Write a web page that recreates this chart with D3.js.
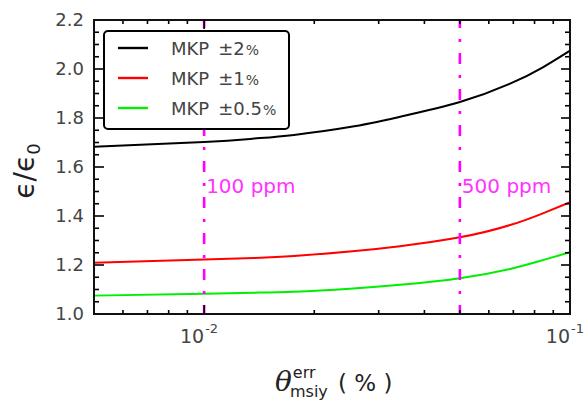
<!doctype html>
<html lang="en">

<head>
  <meta charset="utf-8">
  <title>epsilon ratio vs theta err - D3</title>
  <style>
    body { margin: 0; background: #fff; }
    svg { display: block; }
    text { font-family: "DejaVu Sans", sans-serif; }
  </style>
</head>

<body>
  <svg></svg>

  <script src="https://cdn.jsdelivr.net/npm/d3@7"></script>
  <script>
    const width = 584;
    const height = 401;
    const margin = { top: 20, right: 14, bottom: 87, left: 94 };

    // data (x in %)
    const thetaErr = [0.005, 0.01, 0.0137, 0.0176, 0.025, 0.0343, 0.05, 0.0686, 0.0843, 0.1];
    const mkp2 = [1.683, 1.702, 1.716, 1.731, 1.763, 1.805, 1.865, 1.940, 2.007, 2.075];
    const mkp1 = [1.209, 1.222, 1.229, 1.237, 1.255, 1.277, 1.313, 1.363, 1.411, 1.456];
    const mkp05 = [1.075, 1.083, 1.087, 1.091, 1.103, 1.119, 1.146, 1.184, 1.220, 1.252];

    const seriesPct = ['2', '1', '0.5'];
    const seriesColors = ['#000000', '#ff0000', '#00ee00'];
    const seriesValues = [mkp2, mkp1, mkp05];

    const markerValues = [0.01, 0.05];
    const markerLabels = ['100 ppm', '500 ppm'];

    const yTicks = [1.0, 1.2, 1.4, 1.6, 1.8, 2.0, 2.2];
    const xMajorTicks = [0.01, 0.1];
    const xTickExp = ['-2', '-1'];

    const svg = d3.select('svg')
      .attr('width', width)
      .attr('height', height)
      .attr('viewBox', [0, 0, width, height]);

    const innerW = width - margin.left - margin.right;
    const innerH = height - margin.top - margin.bottom;

    const x = d3.scaleLog().domain([0.005, 0.1]).range([margin.left, margin.left + innerW]);
    const y = d3.scaleLinear().domain([1.0, 2.2]).range([margin.top + innerH, margin.top]);

    // 次刻度
    const xMinor = x.ticks().filter(v => xMajorTicks.indexOf(+v.toPrecision(3)) < 0);
    const yMinor = d3.range(1.0, 2.2001, 0.05).filter(v => Math.abs(v * 5 - Math.round(v * 5)) > 1e-6);

    // 绘制边框刻度
    function drawTicks() {
      const g = svg.append('g').attr('stroke', '#000').attr('stroke-width', 1.6);
      const bottom = margin.top + innerH;
      const right = margin.left + innerW;

      xMinor.forEach(v => {
        g.append('line').attr('x1', x(v)).attr('x2', x(v)).attr('y1', bottom).attr('y2', bottom - 4);
        g.append('line').attr('x1', x(v)).attr('x2', x(v)).attr('y1', margin.top).attr('y2', margin.top + 4);
      });
      xMajorTicks.forEach(v => {
        g.append('line').attr('x1', x(v)).attr('x2', x(v)).attr('y1', bottom).attr('y2', bottom - 9);
        g.append('line').attr('x1', x(v)).attr('x2', x(v)).attr('y1', margin.top).attr('y2', margin.top + 9);
      });
      yMinor.forEach(v => {
        g.append('line').attr('x1', margin.left).attr('x2', margin.left + 5).attr('y1', y(v)).attr('y2', y(v));
        g.append('line').attr('x1', right).attr('x2', right - 5).attr('y1', y(v)).attr('y2', y(v));
      });
      yTicks.forEach(v => {
        g.append('line').attr('x1', margin.left).attr('x2', margin.left + 10).attr('y1', y(v)).attr('y2', y(v));
        g.append('line').attr('x1', right).attr('x2', right - 9).attr('y1', y(v)).attr('y2', y(v));
      });
    }

    // 刻度文字
    function drawTickLabels() {
      svg.append('g')
        .selectAll('text')
        .data(yTicks)
        .enter()
        .append('text')
        .attr('x', margin.left - 10)
        .attr('y', v => y(v))
        .attr('dy', '0.36em')
        .attr('text-anchor', 'end')
        .attr('font-size', 18)
        .attr('fill', '#444')
        .text(v => v.toFixed(1));

      const base = margin.top + innerH + 29;
      xMajorTicks.forEach((v, i) => {
        svg.append('text')
          .attr('x', x(v))
          .attr('y', base)
          .attr('text-anchor', 'end')
          .attr('font-size', 19)
          .attr('fill', '#444')
          .text('10');
        svg.append('text')
          .attr('x', x(v) + 1)
          .attr('y', base - 10)
          .attr('font-size', 13)
          .attr('fill', '#444')
          .text(xTickExp[i]);
      });
    }

    function drawMarkers() {
      markerValues.forEach((v, i) => {
        svg.append('line')
          .attr('x1', x(v)).attr('x2', x(v))
          .attr('y1', margin.top).attr('y2', margin.top + innerH)
          .attr('stroke', '#ff00ff')
          .attr('stroke-width', 2.6)
          .attr('stroke-dasharray', '11,11,3,11')
          .attr('stroke-dashoffset', 3);
        svg.append('text')
          .attr('x', x(v) + 2)
          .attr('y', 193)
          .attr('font-size', 20)
          .attr('fill', '#ff33ff')
          .text(markerLabels[i]);
      });
    }

    function drawCurves() {
      const line = d3.line()
        .x((d, i) => x(thetaErr[i]))
        .y(d => y(d))
        .curve(d3.curveNatural);

      svg.append('g')
        .selectAll('path')
        .data(seriesValues)
        .enter()
        .append('path')
        .attr('d', d => line(d))
        .attr('fill', 'none')
        .attr('stroke', (d, i) => seriesColors[i])
        .attr('stroke-width', 2);
    }

    function drawFrame() {
      svg.append('rect')
        .attr('x', margin.left)
        .attr('y', margin.top)
        .attr('width', innerW)
        .attr('height', innerH)
        .attr('fill', 'none')
        .attr('stroke', '#111')
        .attr('stroke-width', 2);
    }

    function drawLegend() {
      const g = svg.append('g');
      g.append('rect')
        .attr('x', 104).attr('y', 31)
        .attr('width', 185).attr('height', 98)
        .attr('rx', 4)
        .attr('fill', '#fff')
        .attr('stroke', '#000')
        .attr('stroke-width', 2);

      seriesPct.forEach((pct, i) => {
        const ly = 48 + i * 30;
        g.append('line')
          .attr('x1', 118).attr('x2', 148)
          .attr('y1', ly).attr('y2', ly)
          .attr('stroke', seriesColors[i])
          .attr('stroke-width', 2.4);
        const t = g.append('text')
          .attr('x', 171)
          .attr('y', ly + 7)
          .attr('font-size', 18)
          .attr('fill', '#444');
        t.append('tspan').text('MKP');
        t.append('tspan').attr('dx', 9).text('±' + pct);
        t.append('tspan').attr('font-size', 14).attr('dx', 1).text('%');
      });
    }

    function drawTitles() {
      // x 轴标题
      const t = svg.append('text')
        .attr('x', 275)
        .attr('y', 391)
        .attr('fill', '#222');
      t.append('tspan').attr('font-size', 28).attr('font-style', 'italic').attr('font-family', 'DejaVu Serif').text('θ');
      t.append('tspan').attr('font-size', 16).attr('dy', -13).attr('dx', 1).text('err');
      svg.append('text')
        .attr('x', 290).attr('y', 397)
        .attr('font-size', 16)
        .attr('fill', '#222')
        .text('msiy');
      svg.append('text')
        .attr('x', 338).attr('y', 391)
        .attr('font-size', 23)
        .attr('fill', '#222')
        .text('( % )');

      // y 轴标题
      const yt = svg.append('text')
        .attr('transform', 'translate(34,171) rotate(-90)')
        .attr('text-anchor', 'middle')
        .attr('fill', '#222')
        .attr('font-size', 28);
      yt.append('tspan').text('ϵ/ϵ');
      yt.append('tspan').attr('font-size', 18).attr('dy', 6).text('0');
    }

    drawCurves();
    drawMarkers();
    drawTicks();
    drawFrame();
    drawTickLabels();
    drawLegend();
    drawTitles();
  </script>
</body>

</html>
